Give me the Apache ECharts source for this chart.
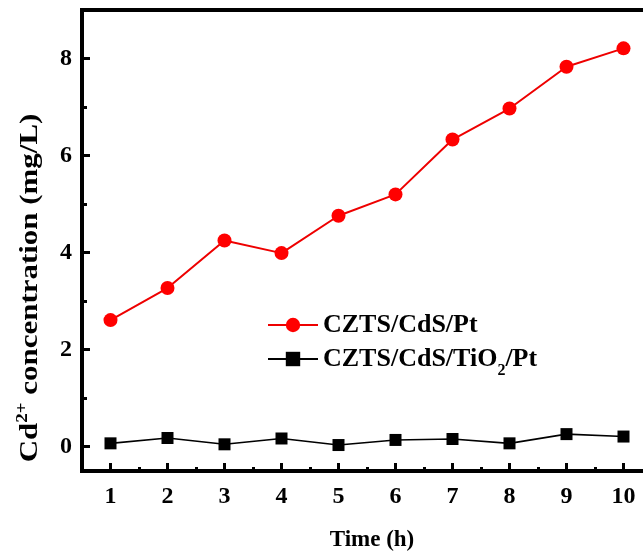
<!DOCTYPE html>
<html>
<head>
<meta charset="utf-8">
<script src="https://cdn.jsdelivr.net/npm/echarts@6/dist/echarts.min.js"></script>
<style>html,body{margin:0;padding:0;background:#fff;overflow:hidden}#c{width:660px;height:556px}</style>
</head>
<body>
<div id="c"></div>
<script>
const timeHours = [1, 2, 3, 4, 5, 6, 7, 8, 9, 10];
const czts_cds_pt = [2.61, 3.27, 4.25, 3.99, 4.76, 5.2, 6.33, 6.97, 7.83, 8.21];
const czts_cds_tio2_pt = [0.07, 0.18, 0.05, 0.17, 0.035, 0.14, 0.16, 0.07, 0.26, 0.21];
const xMajorTicks = [1, 2, 3, 4, 5, 6, 7, 8, 9, 10];
const xMinorTicks = [1.5, 2.5, 3.5, 4.5, 5.5, 6.5, 7.5, 8.5, 9.5];
const yMajorTicks = [0, 2, 4, 6, 8];
const yMinorTicks = [1, 3, 5, 7];
const seriesNames = ['CZTS/CdS/Pt', 'CZTS/CdS/TiO2/Pt'];

const FONT = "'Liberation Serif', 'Times New Roman', serif";
const chart = echarts.init(document.getElementById('c'), null, {renderer: 'canvas'});

const axisLineStyle = {color: '#000', width: 4};
const xBase = {type: 'value', min: 0.5, max: 10.5, gridIndex: 0};
const yBase = {type: 'value', min: -0.5, max: 9, gridIndex: 0};

chart.setOption({
  animation: false,
  backgroundColor: '#fff',
  grid: {left: 82, top: 10, width: 570, bottom: 85, show: true, borderColor: '#000', borderWidth: 4, backgroundColor: 'transparent'},
  xAxis: [
    Object.assign({}, xBase, {
      position: 'bottom',
      axisLine: {show: true, onZero: false, lineStyle: axisLineStyle},
      axisTick: {show: true, inside: true, length: 8, lineStyle: {width: 3, color: '#000'}, customValues: xMajorTicks},
      axisLabel: {show: true, customValues: xMajorTicks, margin: 14, color: '#000', fontFamily: FONT, fontWeight: 'bold', fontSize: 24},
      splitLine: {show: false}
    }),
    Object.assign({}, xBase, {
      position: 'bottom',
      axisLine: {show: false, onZero: false},
      axisTick: {show: true, inside: true, length: 4, lineStyle: {width: 3, color: '#000'}, customValues: xMinorTicks},
      axisLabel: {show: false},
      splitLine: {show: false}
    })
  ],
  yAxis: [
    Object.assign({}, yBase, {
      position: 'left',
      axisLine: {show: true, onZero: false, lineStyle: axisLineStyle},
      axisTick: {show: true, inside: true, length: 8, lineStyle: {width: 3, color: '#000'}, customValues: yMajorTicks},
      axisLabel: {show: true, customValues: yMajorTicks, margin: 10, color: '#000', fontFamily: FONT, fontWeight: 'bold', fontSize: 24},
      splitLine: {show: false}
    }),
    Object.assign({}, yBase, {
      position: 'left',
      axisLine: {show: false, onZero: false},
      axisTick: {show: true, inside: true, length: 5, lineStyle: {width: 3, color: '#000'}, customValues: yMinorTicks},
      axisLabel: {show: false},
      splitLine: {show: false}
    })
  ],
  legend: [
    {
      data: [seriesNames[0]], left: 267, top: 312, orient: 'vertical', padding: 0,
      itemWidth: 50, itemHeight: 18, itemGap: 0,
      textStyle: {color: '#000', fontFamily: FONT, fontWeight: 'bold', fontSize: 26}
    },
    {
      data: [seriesNames[1]], left: 267, top: 346, orient: 'vertical', padding: 0,
      itemWidth: 50, itemHeight: 18, itemGap: 0,
      formatter: function () { return '{a|CZTS/CdS/TiO}{s|2}{a|/Pt}'; },
      textStyle: {
        color: '#000', fontFamily: FONT, fontWeight: 'bold', fontSize: 26,
        rich: {
          a: {color: '#000', fontFamily: FONT, fontWeight: 'bold', fontSize: 26, lineHeight: 26},
          s: {color: '#000', fontFamily: FONT, fontWeight: 'bold', fontSize: 16, verticalAlign: 'bottom', padding: [0, 0, -7, 0]}
        }
      }
    }
  ],
  series: [
    {
      name: seriesNames[0], type: 'line', xAxisIndex: 0, yAxisIndex: 0,
      data: timeHours.map((t, i) => [t, czts_cds_pt[i]]),
      symbol: 'circle', symbolSize: 14,
      itemStyle: {color: '#ff0000'},
      lineStyle: {color: '#ee0000', width: 2}
    },
    {
      name: seriesNames[1], type: 'line', xAxisIndex: 0, yAxisIndex: 0,
      data: timeHours.map((t, i) => [t, czts_cds_tio2_pt[i]]),
      symbol: 'rect', symbolSize: 12,
      itemStyle: {color: '#000'},
      lineStyle: {color: '#000', width: 1.6}
    }
  ],
  graphic: [
    {
      type: 'text', x: 30, y: 288, rotation: Math.PI / 2, scaleX: 1.19, scaleY: 1,
      style: {
        text: '{a|Cd}{s|2+}{a| concentration (mg/L)}',
        align: 'center', verticalAlign: 'middle',
        fill: '#000',
        font: 'bold 26px ' + FONT,
        rich: {
          a: {fill: '#000', fontFamily: FONT, fontWeight: 'bold', fontSize: 26, lineHeight: 30},
          s: {fill: '#000', fontFamily: FONT, fontWeight: 'bold', fontSize: 16, verticalAlign: 'top'}
        }
      }
    },
    {
      type: 'text', x: 372, y: 540,
      style: {
        text: 'Time (h)', align: 'center', verticalAlign: 'middle',
        fill: '#000', font: 'bold 23px ' + FONT
      }
    }
  ]
});
</script>
</body>
</html>
